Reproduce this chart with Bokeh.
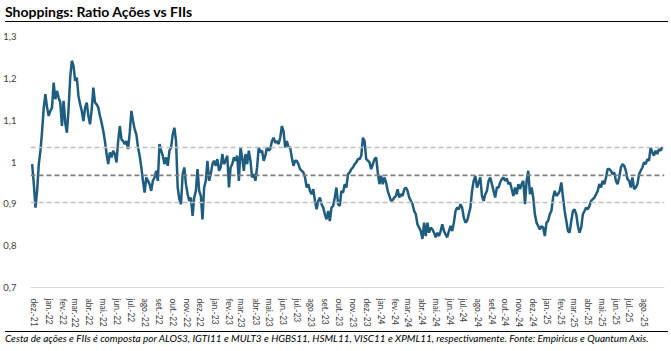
import pandas as pd
from bokeh.plotting import figure
from bokeh.models import Range1d, FixedTicker, Span, Div
from bokeh.layouts import column
from bokeh.embed import file_html
from bokeh.resources import INLINE

TITLE = "Shoppings: Ratio Ações vs FIIs"
NOTE = ("Cesta de ações e FIIs é composta por ALOS3, IGTI11 e MULT3 e HGBS11, HSML11, "
        "VISC11 e XPML11, respectivamente. Fonte: Empiricus e Quantum Axis.")

START_DATE = "2021-11-26"
END_DATE = "2025-09-11"

ratio_dec21_oct23 = [
    0.995, 0.947, 0.891, 0.931, 0.995, 1.027, 1.073, 1.130, 1.162, 1.130,
    1.110, 1.122, 1.130, 1.190, 1.150, 1.170, 1.154, 1.142, 1.086, 1.146,
    1.094, 1.070, 1.126, 1.202, 1.242, 1.230, 1.194, 1.202, 1.158, 1.138,
    1.122, 1.098, 1.130, 1.142, 1.110, 1.090, 1.126, 1.178, 1.142, 1.138,
    1.130, 1.110, 1.094, 1.074, 1.050, 1.019, 0.995, 1.023, 1.011, 1.027,
    1.019, 0.999, 1.050, 1.086, 1.054, 1.050, 1.043, 1.050, 1.031, 1.070,
    1.122, 1.098, 1.078, 1.066, 1.035, 1.015, 0.987, 0.955, 0.927, 0.963,
    0.955, 0.947, 0.931, 0.955, 0.963, 0.979, 0.955, 1.043, 1.027, 1.015,
    0.995, 1.011, 0.991, 1.027, 1.035, 1.066, 1.082, 1.050, 0.939, 0.911,
    0.899, 0.971, 0.987, 0.947, 0.923, 0.907, 0.915, 0.871, 0.915, 0.931,
    0.983, 0.931, 0.919, 0.863, 0.939, 0.955, 1.003, 0.955, 0.971, 0.995,
    1.003, 0.991, 1.007, 0.979, 0.987, 1.019, 0.995, 1.003, 1.015, 0.939,
    0.987, 0.995, 1.011, 1.003, 1.015, 0.955, 1.035, 1.011, 0.979, 1.019,
    0.995, 1.027, 1.003, 0.963, 0.971, 0.955, 0.987, 1.035, 1.023, 1.027,
    1.003, 1.015, 1.035, 1.027, 1.031, 1.050, 1.058, 1.046, 1.050, 1.043,
    1.058, 1.086, 1.074, 1.035, 1.050, 1.035, 1.035, 1.011, 0.991, 1.003,
    1.003, 0.995, 0.983, 0.979, 0.975, 0.963, 0.939, 0.947, 0.931, 0.923,
    0.935, 0.907, 0.887, 0.907, 0.915, 0.899, 0.891, 0.875, 0.863, 0.883,
    0.859, 0.891, 0.895, 0.915, 0.939, 0.899, 0.895, 0.931, 0.927,
]

ratio_oct23_sep25 = [
    0.947, 0.939, 0.971, 0.975, 0.983, 0.987, 0.995, 0.999, 1.007, 1.007,
    1.015, 1.058, 1.050, 1.007, 1.003, 0.999, 0.983, 0.995, 1.007, 1.011,
    0.975, 0.947, 0.967, 0.947, 0.963, 0.951, 0.931, 0.919, 0.907, 0.909,
    0.915, 0.919, 0.935, 0.915, 0.923, 0.919, 0.935, 0.939, 0.931, 0.915,
    0.907, 0.899, 0.883, 0.875, 0.851, 0.843, 0.835, 0.816, 0.855, 0.823,
    0.855, 0.831, 0.843, 0.839, 0.831, 0.820, 0.831, 0.823, 0.835, 0.851,
    0.835, 0.827, 0.820, 0.835, 0.847, 0.835, 0.855, 0.883, 0.891, 0.887,
    0.899, 0.891, 0.867, 0.855, 0.859, 0.875, 0.891, 0.931, 0.955, 0.967,
    0.939, 0.951, 0.963, 0.919, 0.907, 0.923, 0.931, 0.955, 0.963, 0.947,
    0.931, 0.915, 0.939, 0.939, 0.951, 0.959, 0.963, 0.955, 0.961, 0.947,
    0.951, 0.935, 0.919, 0.939, 0.923, 0.947, 0.935, 0.947, 0.955, 0.899,
    0.955, 0.979, 0.923, 0.939, 0.915, 0.875, 0.855, 0.847, 0.839, 0.847,
    0.843, 0.823, 0.855, 0.859, 0.875, 0.883, 0.915, 0.931, 0.919, 0.923,
    0.931, 0.951, 0.915, 0.883, 0.859, 0.835, 0.831, 0.859, 0.883, 0.887,
    0.875, 0.847, 0.831, 0.843, 0.875, 0.883, 0.891, 0.887, 0.895, 0.907,
    0.911, 0.915, 0.923, 0.931, 0.947, 0.939, 0.955, 0.947, 0.963, 0.983,
    0.983, 0.979, 0.971, 0.975, 0.955, 0.947, 0.963, 0.987, 0.995, 0.991,
    0.979, 0.959, 0.955, 0.939, 0.963, 0.935, 0.939, 0.947, 0.971, 0.979,
    0.987, 0.999, 0.995, 1.007, 1.003, 1.035, 1.023, 1.015, 1.027, 1.019,
    1.031, 1.027, 1.036,
]

MEAN = 0.968
UPPER = 1.0345
LOWER = 0.903

Y_TICKS = [0.7, 0.8, 0.9, 1.0, 1.1, 1.2, 1.3]
Y_LABELS = ["0,7", "0,8", "0,9", "1", "1,1", "1,2", "1,3"]
MONTHS = ["jan.", "fev.", "mar.", "abr.", "mai.", "jun.",
          "jul.", "ago.", "set.", "out.", "nov.", "dez."]
FIRST_TICK = "2021-12-01"
LAST_TICK = "2025-08-01"

values = ratio_dec21_oct23 + ratio_oct23_sep25
dates = pd.date_range(START_DATE, END_DATE, periods=len(values))
xs = (dates.astype("int64") // 10**6).tolist()

def ms(s):
    return int(pd.Timestamp(s).value // 10**6)

tick_dates = pd.date_range(FIRST_TICK, LAST_TICK, freq="MS")
x_ticks = [int(d.value // 10**6) for d in tick_dates]
x_labels = {t: f"{MONTHS[d.month - 1]}-{d.year % 100:02d}" for t, d in zip(x_ticks, tick_dates)}

p = figure(width=671, height=308, output_backend="svg", toolbar_location=None,
           title=None,
           x_range=Range1d(ms("2021-11-22 08:00"), ms("2025-09-16")),
           y_range=Range1d(0.7, 1.3),
           min_border_left=25, min_border_right=7, min_border_top=14, min_border_bottom=43,
           margin=(0, 0, 0, 0))
p.outline_line_color = None
p.background_fill_color = "white"
p.border_fill_color = "white"
p.xgrid.visible = False
p.ygrid.visible = False

p.yaxis.ticker = FixedTicker(ticks=Y_TICKS)
p.yaxis.major_label_overrides = {t: l for t, l in zip(Y_TICKS, Y_LABELS)}
p.yaxis.axis_line_color = None
p.yaxis.major_tick_line_color = None
p.yaxis.minor_tick_line_color = None
p.yaxis.major_label_standoff = 8
p.yaxis.major_label_text_font = "Lato"
p.yaxis.major_label_text_font_size = "9.5px"
p.yaxis.major_label_text_color = "#404040"

p.xaxis.ticker = FixedTicker(ticks=x_ticks)
p.xaxis.major_label_overrides = x_labels
p.xaxis.major_label_orientation = "vertical"
p.xaxis.axis_line_color = "#D9D9D9"
p.xaxis.axis_line_width = 1
p.xaxis.major_tick_line_color = None
p.xaxis.minor_tick_line_color = None
p.xaxis.major_label_standoff = 5
p.xaxis.major_label_text_font = "Lato"
p.xaxis.major_label_text_font_size = "8.5px"
p.xaxis.major_label_text_color = "#404040"

p.line(xs, values, line_color="#1F5D80", line_width=2.5)

for loc, col, w in [(UPPER, "#BFBFBF", 1.5), (LOWER, "#BFBFBF", 1.5), (MEAN, "#7F7F7F", 1.8)]:
    p.add_layout(Span(location=loc, dimension="width", line_color=col,
                      line_width=w, line_dash="5 3"))

title_div = Div(
    text=(f'<div style="box-sizing:content-box;margin-left:5px;width:663px;height:19px;'
          f'padding-top:2px;border-bottom:1px solid #000;font-family:Lato;font-weight:bold;'
          f'font-size:14px;line-height:19px;color:#000;white-space:nowrap">{TITLE}</div>'),
    width=671, height=22, margin=(0, 0, 0, 0))

note_div = Div(
    text=(f'<div style="box-sizing:content-box;margin-left:5px;margin-top:1px;width:663px;'
          f'border-top:1px solid #000;font-family:Lato;font-style:italic;font-size:10px;'
          f'line-height:13px;color:#000;white-space:nowrap">{NOTE}</div>'),
    width=671, height=21, margin=(0, 0, 0, 0))

layout = column(title_div, p, note_div, spacing=0, margin=(0, 0, 0, 0))
open("out.html", "w").write(file_html(layout, INLINE))
